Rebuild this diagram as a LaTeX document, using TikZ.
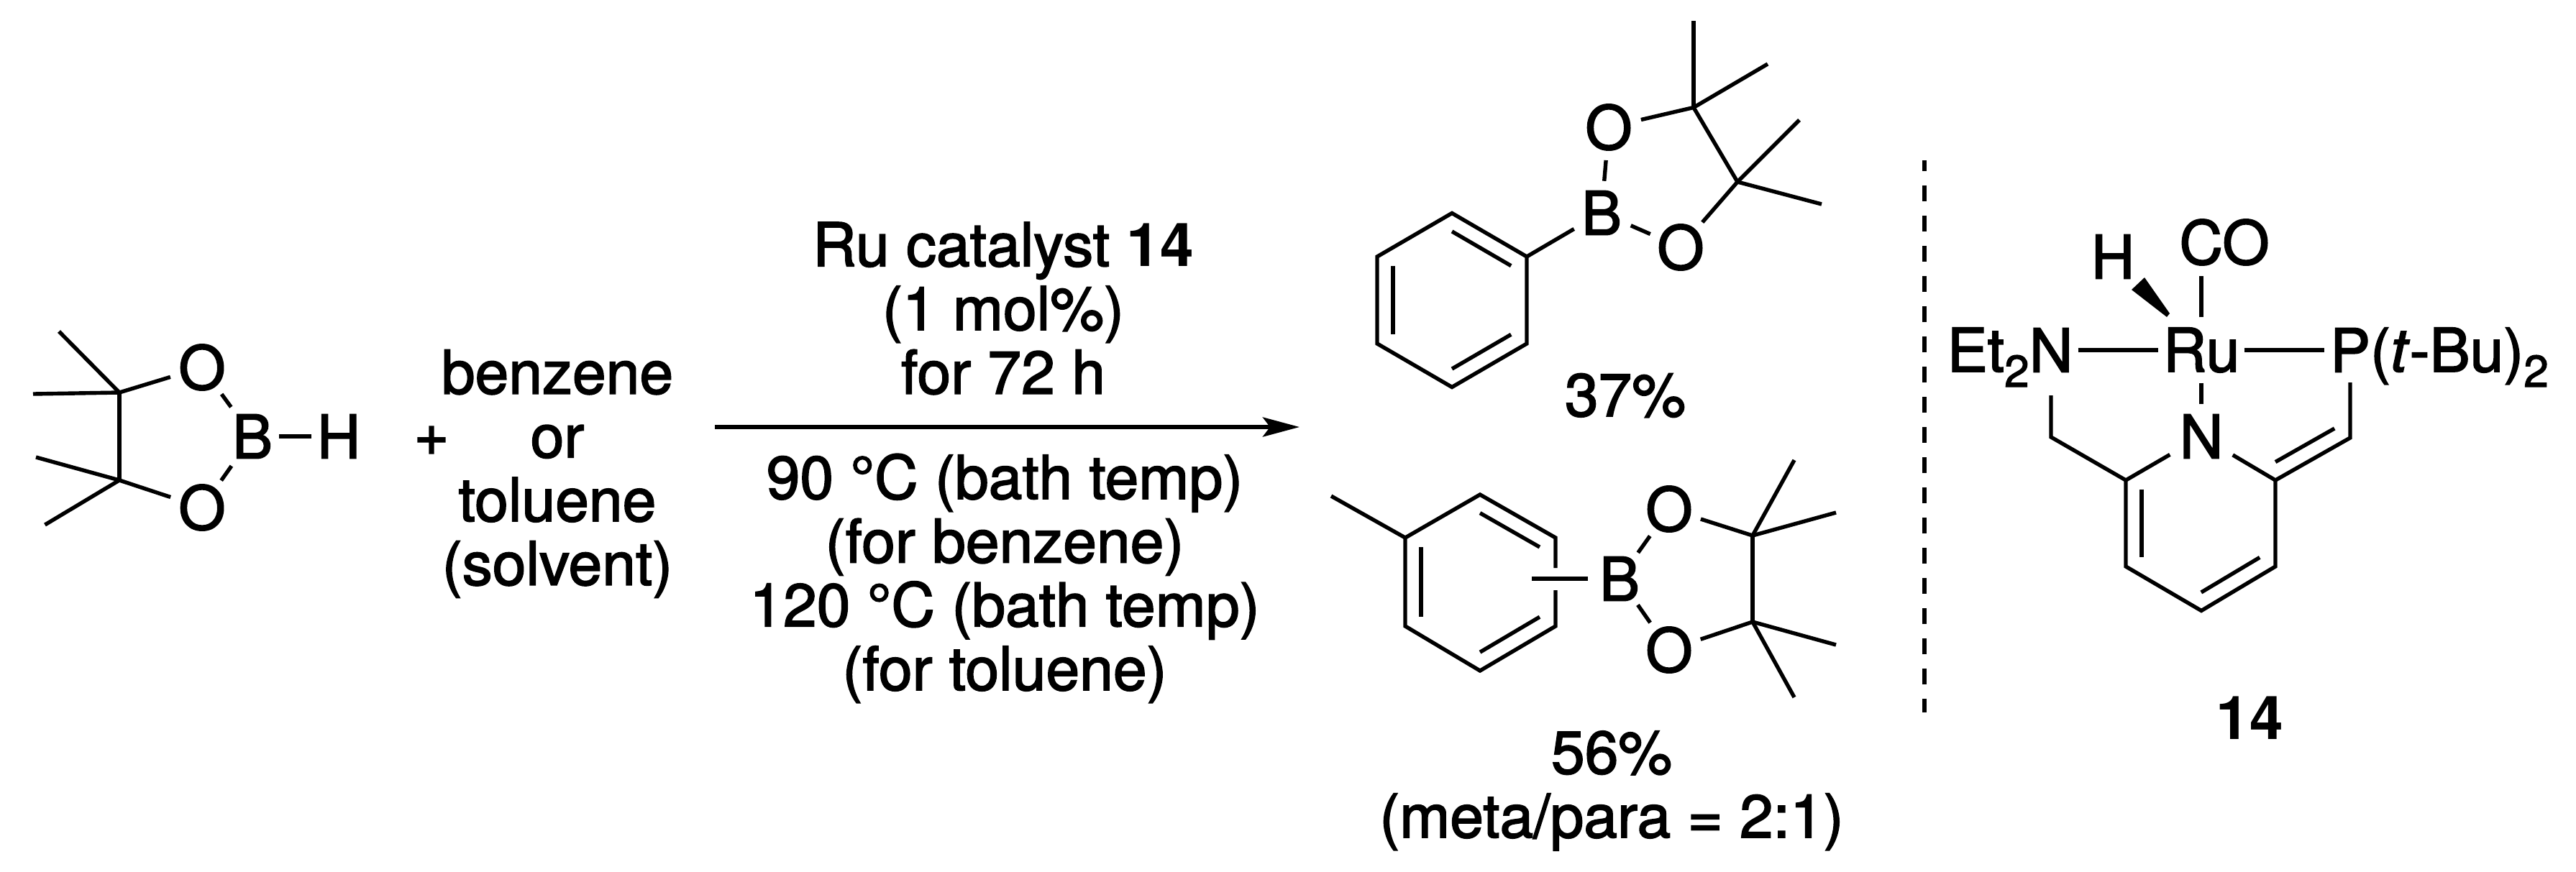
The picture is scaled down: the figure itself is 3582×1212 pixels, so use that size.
\documentclass[tikz,border=0pt]{standalone}
\usepackage{fontspec}
\setmainfont{TeX Gyre Heros}[UprightFeatures={FakeBold=2},ItalicFeatures={FakeBold=2}]
\usetikzlibrary{arrows.meta,calc}

\newcommand{\rxnfont}{\fontsize{42}{44.35}\selectfont}
\newcommand{\subtwo}{\raisebox{-10.5pt}{\fontsize{31}{31}\selectfont 2}}
\newcommand{\dbond}[3]{\draw[bond] ($(#2)!0.21!(#1)$) -- ($(#3)!0.21!(#1)$);}

\tikzset{
	bond/.style={line width=2.7pt},
	atom/.style={circle,inner sep=0pt,minimum size=44pt},
	atombox/.style={rectangle,inner xsep=#1,inner ysep=7pt},
	atombox/.default=6.5pt,
	plain/.style={inner sep=0pt}
}

\begin{document}
\begin{tikzpicture}[x=0.5pt,y=-0.5pt,every node/.style={font=\rxnfont}]

\useasboundingbox (0,0) rectangle (3582,1212);

% pinacolborane
\coordinate (hbA) at (166,546);
\coordinate (hbB) at (166,668);
\coordinate (hbMa) at (82,461);
\coordinate (hbMb) at (46,548);
\coordinate (hbMc) at (50,636);
\coordinate (hbMd) at (62.5,730);
\node[atom] (hbOa) at (281,511) {O};
\node[atom] (hbOb) at (281,706) {O};
\node[atom,minimum size=50pt] (hbBor) at (351,607) {B};
\node[atom] (hbH) at (471,607) {H};
\foreach \a/\b in {hbA/hbB,hbA/hbMa,hbA/hbMb,hbB/hbMc,hbB/hbMd,hbA/hbOa,hbB/hbOb,hbOa/hbBor,hbOb/hbBor}{
	\draw[bond] (\a)--(\b);
}
\draw[bond,shorten <=-6.5pt,shorten >=-3pt] (hbBor)--(hbH);

\node (plus) at (600,613) {+};
\node[align=center] (solvent) at (775,659) {benzene\\or\\toluene\\(solvent)};

% reaction arrow
\coordinate (arrowA) at (994,594);
\coordinate (arrowB) at (1807,594);
\draw[-{Stealth[length=25.5pt,width=13.5pt,inset=5pt]},line width=2.8pt] (arrowA)--(arrowB);
\node[align=center] (condtop) at (1395,429) {Ru catalyst \textbf{14}\\(1 mol\%)\\for 72 h};
\node[align=center] (condbot) at (1397,804.5) {90 °C (bath temp)\\(for benzene)\\120 °C (bath temp)\\(for toluene)};

% phenyl product
\coordinate (phC) at (2019,417.5);
\coordinate (phA) at (2123,357);
\coordinate (phB) at (2019,296.5);
\coordinate (phD) at (1915,357);
\coordinate (phE) at (1915,478);
\coordinate (phF) at (2019,538.5);
\coordinate (phG) at (2123,478);
\draw[bond] (phA)--(phB)--(phD)--(phE)--(phF)--(phG)--cycle;
\dbond{phC}{phA}{phB}
\dbond{phC}{phD}{phE}
\dbond{phC}{phF}{phG}
\node[atom] (phBor) at (2227,296) {B};
\node[atom] (phOa) at (2237,177) {O};
\node[atom] (phOb) at (2337,344) {O};
\coordinate (phCa) at (2355,149.5);
\coordinate (phCb) at (2416,253);
\coordinate (phMa) at (2355,28.5);
\coordinate (phMb) at (2458,89);
\coordinate (phMc) at (2502,167);
\coordinate (phMd) at (2533,284);
\foreach \a/\b in {phA/phBor,phBor/phOa,phBor/phOb,phOa/phCa,phOb/phCb,phCa/phCb,phCa/phMa,phCa/phMb,phCb/phMc,phCb/phMd}{
	\draw[bond] (\a)--(\b);
}
\node[anchor=base] (yieldA) at (2260,579) {37\%};

% tolyl product
\coordinate (toC) at (2058,810);
\coordinate (toA) at (1954,748);
\coordinate (toB) at (2058,688);
\coordinate (toD) at (2163,748);
\coordinate (toE) at (2163,871);
\coordinate (toF) at (2058,933);
\coordinate (toG) at (1954,871);
\coordinate (toMe) at (1851,690);
\coordinate (gapA) at (2163,790);
\coordinate (gapB) at (2163,821);
\coordinate (toSub) at (2130,805);
\draw[bond] (gapA)--(toD)--(toB)--(toA)--(toG)--(toF)--(toE)--(gapB);
\dbond{toC}{toB}{toD}
\dbond{toC}{toA}{toG}
\dbond{toC}{toF}{toE}
\draw[bond] (toA)--(toMe);
\node[atom] (toBor) at (2252,805) {B};
\node[atom] (toOa) at (2321,708) {O};
\node[atom] (toOb) at (2321,904) {O};
\coordinate (toCa) at (2437,745);
\coordinate (toCb) at (2437,865);
\coordinate (toMa) at (2495,640);
\coordinate (toMb) at (2553,713);
\coordinate (toMc) at (2553,897);
\coordinate (toMd) at (2495,970);
\foreach \a/\b in {toSub/toBor,toBor/toOa,toBor/toOb,toOa/toCa,toOb/toCb,toCa/toCb,toCa/toMa,toCa/toMb,toCb/toMc,toCb/toMd}{
	\draw[bond] (\a)--(\b);
}
\node[align=center] (yieldB) at (2241,1100) {56\%\\(meta/para = 2:1)};

% dashed divider
\coordinate (dashA) at (2676,223);
\coordinate (dashB) at (2676,991);
\draw[line width=3pt,dash pattern=on 11pt off 10pt,dash phase=3.5pt] (dashA)--(dashB);

% catalyst
\node[atombox=3pt] (ru) at (3061,487) {Ru};
\node[atombox=3.5pt,inner ysep=16pt] (net) at (2852,487) {N};
\node[plain,anchor=base east] (etlab) at (2822,517) {Et\subtwo};
\node[atombox=4pt] (pat) at (3268,487) {P};
\node[plain,anchor=base west] (butlab) at (3295.7,517) {(\textit{t}-Bu)\subtwo};
\node[atombox] (npy) at (3061,607) {N};
\node[atombox] (co) at (3093,337) {CO};
\node (hyd) at (2938,357) {H};
\coordinate (wedgeA) at (2964,403);
\coordinate (wedgeB) at (2982,386);
\coordinate (wedgeC) at (3017,436);
\coordinate (wedgeD) at (3013,441);
\fill (wedgeA)--(wedgeB)--(wedgeC)--(wedgeD)--cycle;
\coordinate (pyC) at (3060,728);
\coordinate (pyA) at (2956,668);
\coordinate (pyB) at (2956,788);
\coordinate (pyD) at (3061,849.5);
\coordinate (pyE) at (3164,788);
\coordinate (pyF) at (3164,668);
\coordinate (chA) at (2852,608);
\coordinate (chB) at (3268,609);
\coordinate (chC) at (3164,547);
\draw[bond] (pyA)--(pyB)--(pyD)--(pyE)--(pyF);
\dbond{pyC}{pyA}{pyB}
\dbond{pyC}{pyD}{pyE}
\dbond{chC}{pyF}{chB}
\draw[bond] (net)--(ru);
\draw[bond] (ru)--(pat);
\draw[bond] (ru.south)--(npy.north);
\draw[bond] (ru.north)--(ru.north |- co.south);
\draw[bond] (net.south)--(chA)--(pyA)--(npy);
\draw[bond] (pat.south)--(chB)--(pyF)--(npy);
\node[anchor=base] (catlab) at (3128,1028) {\textbf{14}};

\end{tikzpicture}
\end{document}
